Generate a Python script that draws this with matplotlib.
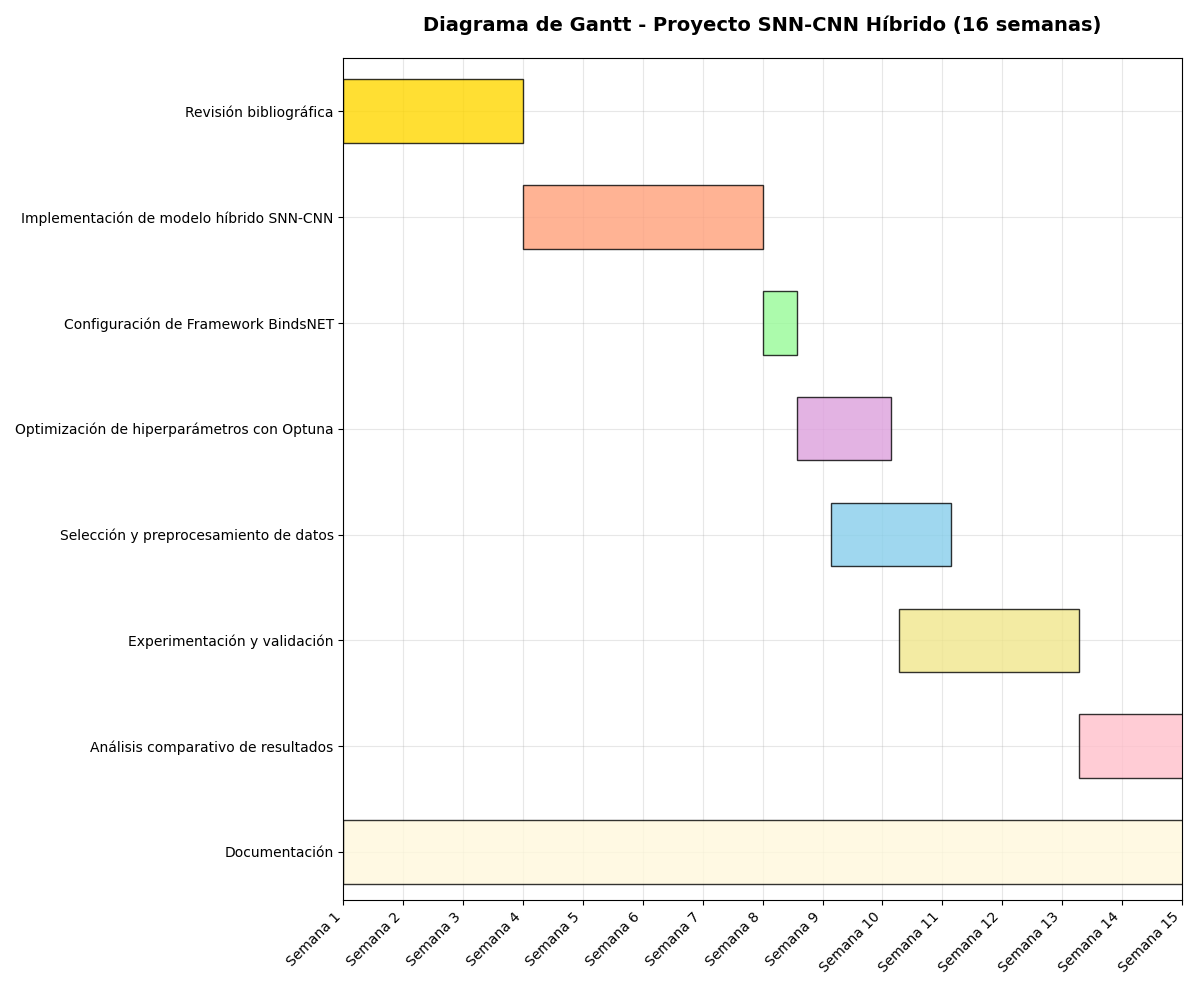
import matplotlib
matplotlib.use("Agg")
import matplotlib.pyplot as plt

tasks = ["Revisión bibliográfica",
         "Implementación de modelo híbrido SNN-CNN",
         "Configuración de Framework BindsNET",
         "Optimización de hiperparámetros con Optuna",
         "Selección y preprocesamiento de datos",
         "Experimentación y validación",
         "Análisis comparativo de resultados",
         "Documentación"]
starts = [0, 3, 7, 7.58, 8.14, 9.28, 12.28, 0]
durations = [3, 4, 0.58, 1.57, 2.0, 3.0, 3.72, 16]
colors = ["gold", "lightsalmon", "palegreen", "plum", "skyblue", "khaki", "pink", "cornsilk"]
week_labels = [f"Semana {i}" for i in range(1, 16)]

fig, ax = plt.subplots(figsize=(11.97, 9.9), dpi=100)
for i, (s, d, c) in enumerate(zip(starts, durations, colors)):
    ax.barh(i, d, left=s, height=0.6, color=c, alpha=0.8, edgecolor="black", zorder=2)

ax.set_yticks(range(len(tasks)))
ax.set_yticklabels(tasks)
ax.set_ylim(7.45, -0.5)
ax.set_xticks(range(15))
ax.set_xticklabels(week_labels, rotation=45, ha="right")
ax.set_xlim(0, 14)
ax.grid(True, alpha=0.3, zorder=0)
ax.set_title("Diagrama de Gantt - Proyecto SNN-CNN Híbrido (16 semanas)",
             fontsize=14, fontweight="bold", pad=20)
plt.tight_layout()
plt.savefig("out.png")
